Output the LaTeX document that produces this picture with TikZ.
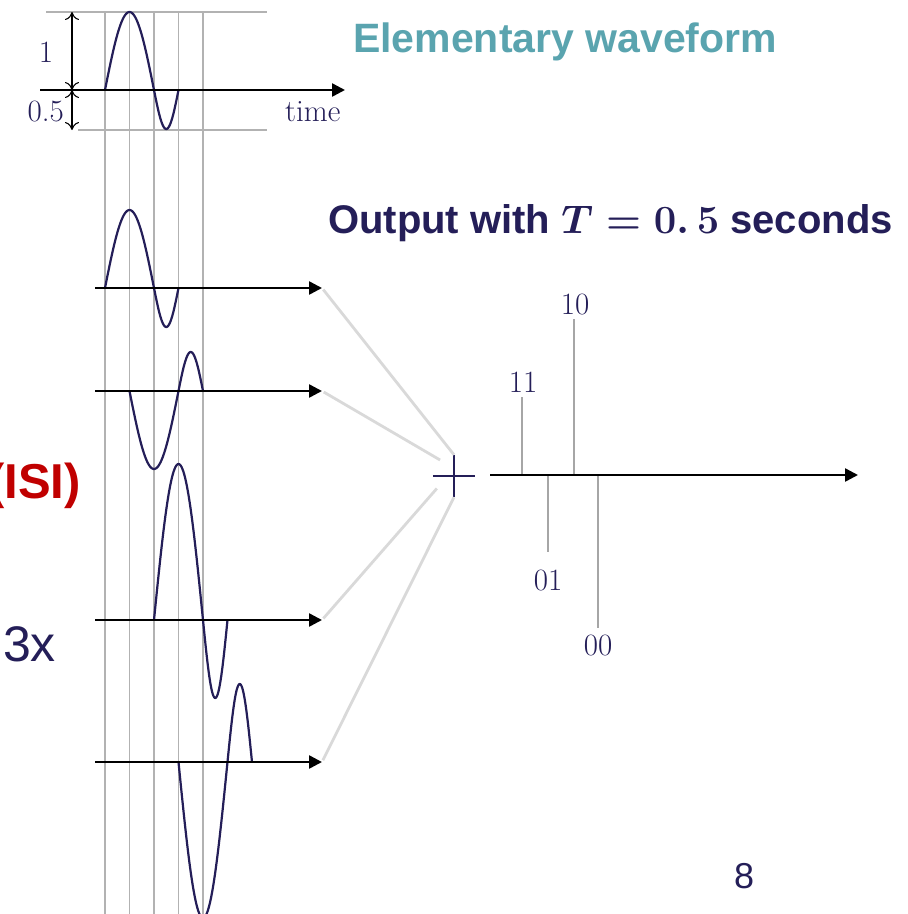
\RequirePackage{fix-cm}
\documentclass[tikz,border=0pt]{standalone}
\usepackage{amsmath}
\usepackage{fontspec}
\setsansfont{Liberation Sans}
\usetikzlibrary{arrows.meta}
\definecolor{navy}{RGB}{36,30,88}
\definecolor{tealtitle}{RGB}{90,164,175}
\definecolor{isired}{RGB}{192,0,0}
\definecolor{gridgrey}{RGB}{178,178,178}
\definecolor{conngrey}{RGB}{217,217,217}
\definecolor{stemgrey}{RGB}{166,166,166}
\tikzset{
  wave/.style={draw=navy, line width=2.2pt},
  axisarrow/.style={draw=black, line width=2.5pt, -{Triangle[length=13pt,width=13pt]}},
  gridline/.style={draw=gridgrey, line width=1.6pt},
  conn/.style={draw=conngrey, line width=2.8pt},
  stem/.style={draw=stemgrey, line width=2.4pt},
  dimarrow/.style={draw=black, line width=1.1pt, {To[length=8pt,width=14pt]}-{To[length=8pt,width=14pt]}},
  seriflbl/.style={text=navy, font=\fontsize{31}{36}\selectfont, inner sep=0pt},
}
\newcommand{\elemwave}[3]{%
  \draw[wave] plot[domain=0:2,samples=61] ({#1+24.5*\x},{#2-78*(#3)*sin(90*\x)})
    -- plot[domain=2:3,samples=41] ({#1+24.5*\x},{#2+39*(#3)*sin(180*(\x-2))});}
\begin{document}
\begin{tikzpicture}[x=1pt,y=-1pt]
\useasboundingbox (0,0) rectangle (908,914);
% grid
\foreach \gx [count=\gi] in {105,129.5,154,178.5,203} {
  \coordinate (gt\gi) at (\gx,12);
  \coordinate (gb\gi) at (\gx,914);
  \draw[gridline] (gt\gi) -- (gb\gi);
}
\coordinate (hl1a) at (46,12); \coordinate (hl1b) at (267,12);
\coordinate (hl2a) at (78,130); \coordinate (hl2b) at (267,130);
\draw[gridline] (hl1a) -- (hl1b);
\draw[gridline] (hl2a) -- (hl2b);
% dimension arrows
\coordinate (dtop) at (72,12); \coordinate (dmid) at (72,90); \coordinate (dbot) at (72,130);
\draw[dimarrow] (dtop) -- (dmid);
\draw[dimarrow] (dmid) -- (dbot);
\node[seriflbl, anchor=base] (lblone) at (46,62) {1};
\node[seriflbl, anchor=base east] (lblhalf) at (64,121) {0.5};
\node[seriflbl, anchor=base west] (lbltime) at (285,121) {time};
% elementary waveform
\elemwave{105}{90}{1}
\coordinate (ta) at (40,90); \coordinate (tb) at (345,90);
\draw[axisarrow] (ta) -- (tb);
% rows
\elemwave{105}{288}{1}
\elemwave{129.5}{391}{-1}
\elemwave{154}{620}{2}
\elemwave{178.5}{762}{-2}
\coordinate (a1) at (95,288); \coordinate (r1) at (322,288);
\coordinate (a2) at (95,391); \coordinate (r2) at (322,391);
\coordinate (a3) at (95,620); \coordinate (r3) at (322,620);
\coordinate (a4) at (95,762); \coordinate (r4) at (322,762);
\draw[axisarrow] (a1) -- (r1);
\draw[axisarrow] (a2) -- (r2);
\draw[axisarrow] (a3) -- (r3);
\draw[axisarrow] (a4) -- (r4);
% adder
\node[circle, minimum size=42pt, inner sep=0pt] (sum) at (454,476) {};
\draw[navy, line width=1.5pt] (sum.west) -- (sum.east) (sum.north) -- (sum.south);
\draw[conn, shorten <=2pt] (r1) -- (sum.north);
\draw[conn, shorten <=2pt] (r2) -- (sum.131);
\draw[conn, shorten <=2pt] (r3) -- (sum.216);
\draw[conn, shorten <=2pt] (r4) -- (sum.south);
% output
\coordinate (s11b) at (522,475); \coordinate (s11t) at (522,397);
\coordinate (s01b) at (548,475); \coordinate (s01t) at (548,552);
\coordinate (s10b) at (574,475); \coordinate (s10t) at (574,319);
\coordinate (s00b) at (598,475); \coordinate (s00t) at (598,628);
\draw[stem] (s11b) -- (s11t);
\draw[stem] (s01b) -- (s01t);
\draw[stem] (s10b) -- (s10t);
\draw[stem] (s00b) -- (s00t);
\coordinate (oa) at (490,475); \coordinate (ob) at (858,475);
\draw[axisarrow] (oa) -- (ob);
\node[seriflbl, anchor=base] (l11) at (523,392) {11};
\node[seriflbl, anchor=base] (l10) at (575,314) {10};
\node[seriflbl, anchor=base] (l01) at (548,590) {01};
\node[seriflbl, anchor=base] (l00) at (598,655) {00};
% texts
\node[anchor=base west, inner sep=0pt, text=tealtitle, font=\sffamily\bfseries\fontsize{41}{48}\selectfont] (title1) at (353,52.5) {Elementary waveform};
\node[anchor=base west, inner sep=0pt, text=navy, font=\sffamily\bfseries\fontsize{40}{48}\selectfont] (title2) at (328,233.5) {Output with $\boldsymbol{T = 0.\,5}$ seconds};
\node[anchor=base east, inner sep=0pt, text=isired, font=\sffamily\bfseries\fontsize{49}{56}\selectfont] (isi) at (81,498) {(ISI)};
\node[anchor=base west, inner sep=0pt, text=navy, font=\sffamily\fontsize{50}{58}\selectfont] (three) at (3,661) {3x};
\node[anchor=base west, inner sep=0pt, text=navy, font=\sffamily\fontsize{36}{42}\selectfont] (pagenum) at (734,888) {8};
\end{tikzpicture}
\end{document}
